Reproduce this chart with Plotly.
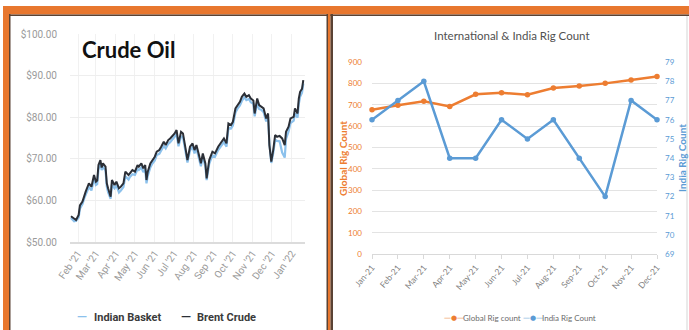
import plotly.graph_objects as go

# ---------------- Crude oil prices (USD / bbl) ----------------
price_dates = [
    "2021-01-21", "2021-01-26", "2021-01-29", "2021-02-02", "2021-02-04", "2021-02-08",
    "2021-02-11", "2021-02-13", "2021-02-17", "2021-02-18", "2021-02-22", "2021-02-24",
    "2021-02-26", "2021-03-01", "2021-03-03", "2021-03-05", "2021-03-08", "2021-03-10",
    "2021-03-12", "2021-03-16", "2021-03-18", "2021-03-20", "2021-03-24", "2021-03-26",
    "2021-03-30", "2021-04-02", "2021-04-06", "2021-04-09", "2021-04-13", "2021-04-16",
    "2021-04-21", "2021-04-23", "2021-04-27", "2021-05-01", "2021-05-05", "2021-05-07",
    "2021-05-11", "2021-05-14", "2021-05-17", "2021-05-19", "2021-05-21", "2021-05-25",
    "2021-05-28", "2021-06-01", "2021-06-04", "2021-06-08", "2021-06-11", "2021-06-15",
    "2021-06-18", "2021-06-22", "2021-06-25", "2021-06-29", "2021-07-02", "2021-07-05",
    "2021-07-08", "2021-07-12", "2021-07-15", "2021-07-19", "2021-07-22", "2021-07-26",
    "2021-07-30", "2021-08-02", "2021-08-05", "2021-08-09", "2021-08-12", "2021-08-15",
    "2021-08-19", "2021-08-21", "2021-08-25", "2021-08-30", "2021-09-03", "2021-09-08",
    "2021-09-13", "2021-09-17", "2021-09-21", "2021-09-24", "2021-09-28", "2021-10-01",
    "2021-10-05", "2021-10-08", "2021-10-12", "2021-10-15", "2021-10-19", "2021-10-22",
    "2021-10-26", "2021-10-29", "2021-11-02", "2021-11-04", "2021-11-08", "2021-11-11",
    "2021-11-15", "2021-11-18", "2021-11-22", "2021-11-25", "2021-11-27", "2021-11-30",
    "2021-12-03", "2021-12-06", "2021-12-09", "2021-12-13", "2021-12-17", "2021-12-21",
    "2021-12-23", "2021-12-27", "2021-12-30", "2022-01-04", "2022-01-06", "2022-01-10",
    "2022-01-12", "2022-01-14", "2022-01-17", "2022-01-19",
]

brent_crude = [
    56.2, 55.5, 55.3, 56.5, 58.8, 59.7,
    61.3, 62.1, 63.7, 64.1, 63.3, 64.6,
    66.1, 64.5, 64.8, 68.5, 69.7, 67.9,
    68.9, 68.1, 64.1, 62.9, 60.9, 64.9,
    63.7, 64.5, 62.9, 63.3, 64.1, 66.9,
    66.1, 66.5, 67.3, 66.9, 68.5, 68.1,
    68.9, 67.7, 68.5, 64.9, 66.9, 68.9,
    69.7, 70.5, 71.7, 72.1, 72.9, 74.1,
    73.3, 74.5, 74.9, 75.5, 76.1, 76.9,
    73.7, 76.5, 76.1, 72.5, 69.7, 72.9,
    73.7, 72.1, 73.3, 70.9, 68.9, 71.3,
    68.9, 65.3, 69.7, 71.7, 71.3, 72.9,
    74.1, 74.9, 73.7, 78.5, 78.1, 78.9,
    82.1, 82.8, 83.7, 84.9, 85.7, 84.9,
    85.3, 84.5, 84.0, 80.9, 84.5, 82.9,
    82.5, 82.1, 79.7, 80.9, 73.3, 69.3,
    72.1, 75.7, 75.3, 75.5, 74.9, 73.3,
    76.5, 77.7, 79.7, 80.1, 82.1, 80.9,
    84.5, 86.1, 86.8, 88.9,
]

indian_basket = [
    55.8, 55.0, 55.1, 55.9, 58.0, 59.1,
    60.6, 61.4, 62.9, 63.2, 62.4, 63.8,
    65.2, 63.7, 63.9, 67.5, 68.9, 67.3,
    68.0, 67.2, 63.3, 62.0, 60.4, 63.8,
    62.9, 63.6, 61.9, 62.4, 63.2, 65.8,
    65.0, 65.6, 66.3, 66.1, 67.5, 67.3,
    67.9, 66.8, 67.6, 64.1, 65.9, 67.9,
    68.8, 69.6, 70.9, 71.2, 72.0, 73.1,
    72.5, 73.6, 74.0, 74.7, 75.3, 75.9,
    73.0, 75.4, 75.2, 71.8, 69.1, 72.0,
    72.9, 71.3, 72.5, 70.1, 68.2, 70.5,
    68.1, 64.9, 68.8, 70.8, 70.5, 72.1,
    73.2, 74.0, 72.9, 77.4, 77.3, 78.0,
    81.1, 82.0, 82.8, 83.9, 84.8, 84.1,
    84.4, 83.6, 83.2, 80.2, 83.4, 82.0,
    81.7, 81.2, 79.0, 80.1, 73.8, 69.0,
    71.3, 74.6, 74.3, 74.2, 71.5, 70.3,
    74.8, 76.6, 78.6, 79.2, 80.9, 79.9,
    83.2, 84.9, 85.9, 88.1,
]

# ---------------- Rig counts, 2021 ----------------
rig_months = ["Jan-21", "Feb-21", "Mar-21", "Apr-21", "May-21", "Jun-21",
              "Jul-21", "Aug-21", "Sep-21", "Oct-21", "Nov-21", "Dec-21"]
global_rigs = [676, 698, 716, 692, 749, 756, 747, 778, 788, 800, 816, 832]
india_rigs = [76, 77, 78, 74, 74, 76, 75, 76, 74, 72, 77, 76]

W, H = 689, 330


def px(x):
    return x / W


def py(y):
    return 1 - y / H


ORANGE = "#ED7D31"
BLUE = "#5B9BD5"
FRAME_ORANGE = "#E8772E"
FRAME_DARK = "#5a4334"
LEFT_FONT = "Roboto"
RIGHT_FONT = "Lato"

fig = go.Figure()

fig.add_trace(go.Scatter(
    x=price_dates, y=indian_basket, mode="lines", name="Indian Basket",
    line=dict(color="#8CC1EC", width=2.2), xaxis="x", yaxis="y", showlegend=False,
))
fig.add_trace(go.Scatter(
    x=price_dates, y=brent_crude, mode="lines", name="Brent Crude",
    line=dict(color="#2B2F37", width=2), xaxis="x", yaxis="y", showlegend=False,
))

fig.add_trace(go.Scatter(
    x=rig_months, y=global_rigs, mode="lines+markers", name="Global Rig count",
    line=dict(color=ORANGE, width=2.5), marker=dict(color=ORANGE, size=5.5),
    xaxis="x2", yaxis="y2", cliponaxis=False, showlegend=False,
))
fig.add_trace(go.Scatter(
    x=rig_months, y=india_rigs, mode="lines+markers", name="India Rig Count",
    line=dict(color=BLUE, width=2.5), marker=dict(color=BLUE, size=5.5),
    xaxis="x2", yaxis="y3", cliponaxis=False, showlegend=False,
))

# frame: orange header bar and panel borders
shapes = []


def rect(x0, y0, x1, y1, color):
    shapes.append(dict(type="rect", xref="paper", yref="paper",
                       x0=px(x0), x1=px(x1), y0=py(y1), y1=py(y0),
                       fillcolor=color, line=dict(width=0), layer="below"))


rect(3, 6, 689, 14.5, FRAME_ORANGE)
rect(9, 14.5, 689, 16, FRAME_DARK)
rect(3, 6, 9, 330, FRAME_ORANGE)
rect(9, 14, 10.5, 330, FRAME_DARK)
rect(326.5, 14, 328, 330, FRAME_DARK)
rect(328, 6, 330.5, 330, FRAME_ORANGE)
rect(330.5, 14, 333, 330, FRAME_DARK)
rect(686.5, 16, 687.5, 330, "#d6d6d6")


def note(text, x, y, size, color, family, anchor="left", weight="normal", angle=0):
    return dict(text=text, x=px(x), y=py(y), xref="paper", yref="paper",
                xanchor=anchor, yanchor="middle", showarrow=False, textangle=angle,
                font=dict(family=family, size=size, color=color, weight=weight))


annotations = [
    note("Crude Oil", 80, 50, 22, "#111111", "Lato", weight="bold"),
    # left legend
    note("—", 75, 316, 13, "#8CC1EC", LEFT_FONT, weight="bold"),
    note("Indian Basket", 92, 317, 11, "#3a3a3a", LEFT_FONT, weight="bold"),
    note("—", 179, 316, 13, "#2B2F37", LEFT_FONT, weight="bold"),
    note("Brent Crude", 195, 317, 11, "#3a3a3a", LEFT_FONT, weight="bold"),
    # right chart titles
    note("International &amp; India Rig Count", 512, 35, 11.5, "#505050", RIGHT_FONT,
         anchor="center"),
    note("Global Rig Count", 343, 159, 10, ORANGE, RIGHT_FONT, anchor="center",
         weight="bold", angle=-90),
    note("India Rig Count", 682, 158, 10, BLUE, RIGHT_FONT, anchor="center",
         weight="bold", angle=-90),
    # right legend
    note("—●—", 442, 318, 7, ORANGE, "DejaVu Sans"),
    note("Global Rig count", 461, 318, 8, "#6b6b6b", RIGHT_FONT),
    note("—●—", 521, 318, 7, BLUE, "DejaVu Sans"),
    note("India Rig Count", 540, 318, 8, "#6b6b6b", RIGHT_FONT),
]

fig.update_layout(
    width=W, height=H,
    margin=dict(l=0, r=0, t=0, b=0, autoexpand=False),
    paper_bgcolor="white", plot_bgcolor="white",
    shapes=shapes, annotations=annotations,
    xaxis=dict(
        domain=[px(70), px(305)], anchor="y", type="date", automargin=False,
        range=["2021-01-19 12:00", "2022-01-21 16:00"],
        tick0="2021-02-01", dtick="M1", tickformat="%b '%y", tickangle=-55,
        tickfont=dict(family=LEFT_FONT, size=10, color="#9a9a9a"),
        showgrid=True, gridcolor="#f1f1f1", gridwidth=1,
        showline=True, linecolor="#dcdcdc", linewidth=1.5, ticks="",
        zeroline=False,
    ),
    yaxis=dict(
        domain=[py(242), py(34)], anchor="x", range=[50, 100], dtick=10,
        automargin=False, tickprefix="$", tickformat=".2f",
        tickfont=dict(family=LEFT_FONT, size=10, color="#9a9a9a"),
        showgrid=True, gridcolor="#eeeeee", gridwidth=1, zeroline=False,
        ticklabelstandoff=12,
    ),
    xaxis2=dict(
        domain=[px(372), px(657)], anchor="y2", type="category", automargin=False,
        range=[0, len(rig_months) - 1], tickangle=-50,
        tickfont=dict(family=RIGHT_FONT, size=8.5, color="#7f7f7f"),
        ticks="outside", ticklen=4, tickcolor="#d9d9d9",
        showgrid=False, showline=True, linecolor="#d9d9d9", zeroline=False,
    ),
    yaxis2=dict(
        domain=[py(254.3), py(62)], anchor="x2", range=[0, 900], dtick=100,
        automargin=False,
        tickfont=dict(family=RIGHT_FONT, size=8, color=ORANGE),
        showgrid=True, gridcolor="#e3e3e3", zeroline=False,
        ticklabelstandoff=9,
    ),
    yaxis3=dict(
        anchor="x2", overlaying="y2", side="right", range=[69, 79], dtick=1,
        automargin=False,
        tickfont=dict(family=RIGHT_FONT, size=8, color=BLUE),
        showgrid=False, zeroline=False, ticklabelstandoff=7,
    ),
)

fig.write_html("out.html")
